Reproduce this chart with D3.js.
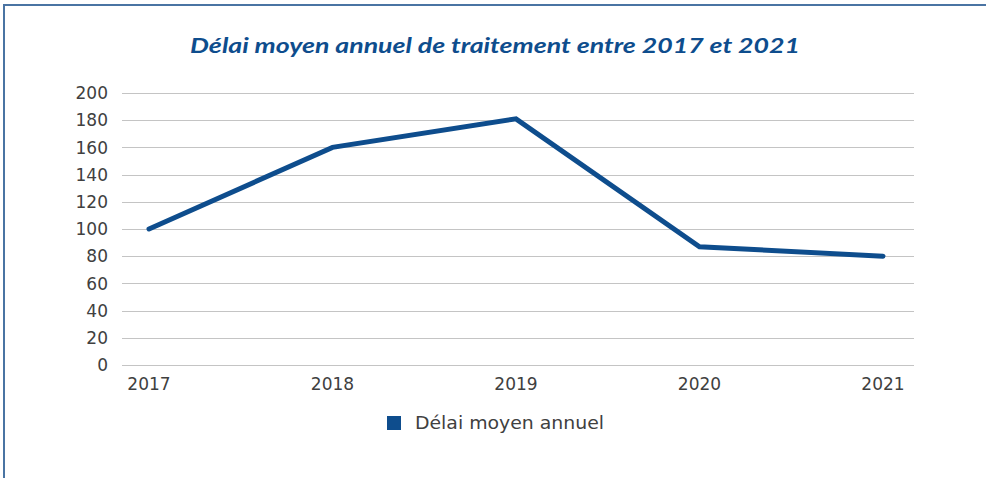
<!DOCTYPE html>
<html><head><meta charset="utf-8">
<script src="https://cdn.jsdelivr.net/npm/d3@7"></script>
<style>html,body{margin:0;padding:0;background:#fff;}svg{display:block;}</style>
</head><body>
<svg id="c" width="986" height="478"></svg>
<script>
const categories = ["2017","2018","2019","2020","2021"];
const values = [100,160,181,87,80];
const yTicks = [0,20,40,60,80,100,120,140,160,180,200];
const seriesName = "Délai moyen annuel";
const title = "Délai moyen annuel de traitement entre 2017 et 2021";

const svg = d3.select("#c");
const blue = "#0e4d8d";
// frame
svg.append("line").attr("x1",4).attr("x2",986).attr("y1",5).attr("y2",5).attr("stroke","#4a74a3").attr("stroke-width",2);
svg.append("line").attr("x1",4).attr("x2",4).attr("y1",4).attr("y2",478).attr("stroke","#4a74a3").attr("stroke-width",2);

svg.append("text").attr("x",495).attr("y",53).attr("text-anchor","middle")
  .attr("font-family","Lato, 'Open Sans', sans-serif").attr("font-weight","bold").attr("font-style","italic")
  .attr("font-size",21).attr("fill",blue).attr("textLength",610).attr("lengthAdjust","spacingAndGlyphs").text(title);

const y = d3.scaleLinear().domain([0,200]).range([365,93]);
const x = d3.scalePoint().domain(categories).range([149,883]);
const gx0 = 122, gx1 = 914;

const grid = svg.append("g");
grid.selectAll("line").data(yTicks).join("line")
  .attr("x1",gx0).attr("x2",gx1).attr("y1",d=>Math.round(y(d))+0.5).attr("y2",d=>Math.round(y(d))+0.5)
  .attr("stroke","#c4c4c4").attr("stroke-width",1);

const font = "'DejaVu Sans', sans-serif";
svg.append("g").selectAll("text").data(yTicks).join("text")
  .attr("x",108).attr("y",d=>y(d)).attr("dy","0.36em").attr("text-anchor","end")
  .attr("font-family",font).attr("font-size",17).attr("fill","#404040").text(d=>d);

svg.append("g").selectAll("text").data(categories).join("text")
  .attr("x",d=>x(d)).attr("y",390).attr("text-anchor","middle")
  .attr("font-family",font).attr("font-size",17).attr("fill","#404040").text(d=>d);

const line = d3.line().x((d,i)=>x(categories[i])).y(d=>y(d));
svg.append("path").datum(values).attr("d",line).attr("fill","none")
  .attr("stroke",blue).attr("stroke-width",5).attr("stroke-linejoin","miter").attr("stroke-linecap","round");

const lg = svg.append("g");
lg.append("rect").attr("x",387).attr("y",416).attr("width",14).attr("height",14).attr("fill",blue);
lg.append("text").attr("x",415).attr("y",423).attr("dy","0.36em")
  .attr("font-family",font).attr("font-size",17).attr("fill","#404040")
  .attr("textLength",189).attr("lengthAdjust","spacingAndGlyphs").text(seriesName);
</script>
</body></html>
